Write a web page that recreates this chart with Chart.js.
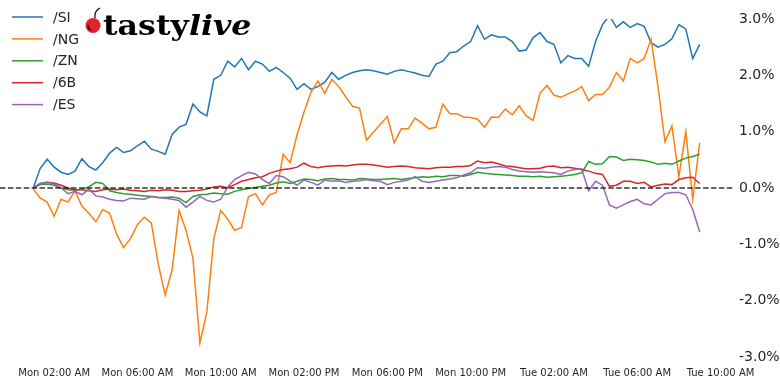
<!DOCTYPE html>
<html>
<head>
<meta charset="utf-8">
<script src="https://cdn.jsdelivr.net/npm/chart.js@4/dist/chart.umd.min.js"></script>
<style>
  html, body { margin: 0; padding: 0; background: #fff; }
  #wrap { width: 780px; height: 383px; position: relative; }
</style>
</head>
<body>
<div id="wrap"><canvas id="myChart"></canvas></div>
<script>
// time axis: hours since Mon 00:00, one reading every 20 minutes
var startHour = 1.0
var stepHours = 1 / 3
var tickHours = [2, 6, 10, 14, 18, 22, 26, 30, 34]

var seriesNames = ['/SI', '/NG', '/ZN', '/6B', '/ES']
var seriesColors = ['#1f77b4', '#ff7f0e', '#2ca02c', '#d62728', '#9467bd']

// % change from the first print
var siValues = [0.0,0.35,0.51,0.37,0.28,0.24,0.30,0.52,0.38,0.32,
  0.45,0.62,0.72,0.63,0.66,0.75,0.83,0.69,0.65,0.60,
  0.95,1.08,1.13,1.49,1.35,1.28,1.93,2.00,2.25,2.15,
  2.30,2.10,2.25,2.20,2.07,2.14,2.05,1.95,1.75,1.85,
  1.75,1.80,1.88,2.05,1.93,2.00,2.05,2.08,2.10,2.08,
  2.05,2.02,2.07,2.10,2.07,2.04,2.00,1.98,2.20,2.25,
  2.40,2.42,2.52,2.60,2.88,2.64,2.72,2.68,2.68,2.60,
  2.43,2.45,2.67,2.76,2.60,2.55,2.22,2.35,2.30,2.30,
  2.16,2.60,2.90,3.06,2.85,2.95,2.85,2.92,2.87,2.58,
  2.50,2.55,2.65,2.90,2.82,2.30,2.55]

var ngValues = [-0.02,-0.18,-0.25,-0.50,-0.20,-0.25,-0.05,-0.32,-0.45,-0.60,
  -0.38,-0.45,-0.82,-1.06,-0.90,-0.65,-0.52,-0.62,-1.35,-1.90,
  -1.45,-0.40,-0.75,-1.25,-2.75,-2.20,-0.90,-0.40,-0.55,-0.75,
  -0.70,-0.15,-0.10,-0.30,-0.12,-0.08,0.60,0.45,0.95,1.35,
  1.70,1.90,1.68,1.93,1.80,1.62,1.45,1.42,0.85,0.99,
  1.13,1.27,0.80,1.05,1.05,1.24,1.15,1.05,1.08,1.49,
  1.32,1.32,1.26,1.25,1.22,1.08,1.26,1.25,1.40,1.30,
  1.46,1.28,1.20,1.68,1.82,1.65,1.61,1.67,1.72,1.80,
  1.55,1.66,1.66,1.79,2.05,1.90,2.30,2.22,2.30,2.64,
  1.80,0.82,1.10,0.20,1.00,-0.20,0.80]

var znValues = [0.00,0.06,0.07,0.05,0.00,-0.03,-0.04,-0.02,0.02,0.10,
  0.08,-0.05,-0.08,-0.10,-0.11,-0.13,-0.14,-0.15,-0.17,-0.17,
  -0.16,-0.18,-0.26,-0.15,-0.12,-0.11,-0.09,-0.10,-0.11,-0.06,
  -0.03,-0.01,0.01,0.03,0.05,0.09,0.11,0.08,0.12,0.16,
  0.15,0.13,0.16,0.17,0.15,0.15,0.14,0.17,0.16,0.15,
  0.15,0.16,0.17,0.15,0.17,0.18,0.20,0.19,0.21,0.20,
  0.22,0.22,0.21,0.24,0.28,0.26,0.25,0.24,0.23,0.22,
  0.21,0.21,0.20,0.21,0.19,0.20,0.21,0.22,0.24,0.27,
  0.47,0.42,0.43,0.56,0.55,0.49,0.51,0.50,0.49,0.46,
  0.42,0.44,0.42,0.48,0.53,0.56,0.60]

var b6Values = [0.00,0.08,0.10,0.09,0.05,0.00,-0.03,-0.03,-0.05,-0.06,
  -0.03,-0.02,-0.03,-0.02,-0.04,-0.05,-0.06,-0.04,-0.05,-0.03,
  -0.04,-0.06,-0.06,-0.05,-0.04,-0.02,0.02,0.03,0.00,0.06,
  0.12,0.15,0.18,0.20,0.26,0.30,0.33,0.34,0.37,0.44,
  0.38,0.36,0.38,0.39,0.40,0.39,0.41,0.42,0.42,0.41,
  0.39,0.37,0.38,0.39,0.38,0.36,0.35,0.34,0.36,0.37,
  0.37,0.38,0.38,0.40,0.48,0.45,0.46,0.43,0.39,0.38,
  0.36,0.34,0.34,0.35,0.38,0.39,0.36,0.37,0.35,0.33,
  0.30,0.26,0.24,0.03,0.05,0.12,0.12,0.08,0.10,0.02,
  0.05,0.07,0.06,0.15,0.18,0.19,0.08]

var esValues = [0.00,0.08,0.10,0.07,0.00,-0.10,-0.06,-0.12,-0.02,-0.14,
  -0.16,-0.20,-0.22,-0.23,-0.18,-0.19,-0.20,-0.15,-0.17,-0.18,
  -0.20,-0.22,-0.34,-0.25,-0.15,-0.22,-0.25,-0.20,0.02,0.15,
  0.22,0.28,0.25,0.15,0.08,0.22,0.20,0.12,0.05,0.14,
  0.10,0.05,0.14,0.12,0.13,0.10,0.12,0.13,0.15,0.13,
  0.12,0.06,0.10,0.12,0.14,0.20,0.12,0.10,0.12,0.14,
  0.16,0.18,0.23,0.27,0.36,0.35,0.37,0.38,0.37,0.33,
  0.30,0.29,0.28,0.29,0.28,0.27,0.24,0.30,0.33,0.34,
  -0.05,0.12,0.05,-0.30,-0.36,-0.30,-0.24,-0.20,-0.28,-0.30,
  -0.20,-0.10,-0.08,-0.08,-0.12,-0.38,-0.78]

var allValues = [siValues, ngValues, znValues, b6Values, esValues]


function fmtHour(v) {
  var day = v < 24 ? 'Mon' : 'Tue'
  var h = v % 24
  var ampm = h < 12 ? 'AM' : 'PM'
  var h12 = h % 12 === 0 ? 12 : h % 12
  return day + ' ' + String(h12).padStart(2, '0') + ':00 ' + ampm
}

function return_data() {
  var x = { datasets: [] }
  for (var s = 0; s < seriesNames.length; s++) {
    var pts = []
    for (var i = 0; i < allValues[s].length; i++) {
      pts.push({ x: startHour + i * stepHours, y: allValues[s][i] })
    }
    x.datasets.push({
      label: seriesNames[s],
      data: pts,
      borderColor: seriesColors[s],
      backgroundColor: seriesColors[s],
      borderWidth: 1.5,
      pointRadius: 0,
      tension: 0,
      // last series on top, like the original
      order: seriesNames.length - 1 - s
    })
  }
  return x
}

// dashed line at 0%
var zeroLine = {
  id: 'zeroLine',
  afterDatasetsDraw: function(chart) {
    var ctx = chart.ctx, area = chart.chartArea
    var y = chart.scales.y.getPixelForValue(0)
    ctx.save()
    ctx.strokeStyle = 'rgba(0,0,0,0.8)'
    ctx.lineWidth = 1.5
    ctx.setLineDash([5.5, 2.4])
    ctx.beginPath()
    ctx.moveTo(area.left, y)
    ctx.lineTo(area.right, y)
    ctx.stroke()
    ctx.restore()
  }
}

// legend in the top left corner plus the logo
var decor = {
  id: 'decor',
  afterDraw: function(chart) {
    var ctx = chart.ctx
    ctx.save()
    chart.data.datasets.forEach(function(ds, i) {
      var y = 17 + i * 21.9
      ctx.strokeStyle = ds.borderColor
      ctx.lineWidth = 1.5
      ctx.beginPath()
      ctx.moveTo(12, y)
      ctx.lineTo(43, y)
      ctx.stroke()
      ctx.fillStyle = '#262626'
      ctx.font = '14px "DejaVu Sans"'
      ctx.textBaseline = 'middle'
      ctx.fillText(ds.label, 53, y + 1)
    })

    // cherry
    ctx.fillStyle = '#e3212b'
    ctx.beginPath()
    ctx.arc(93, 25.5, 7.5, 0, Math.PI * 2)
    ctx.fill()
    ctx.strokeStyle = '#111'
    ctx.lineWidth = 1.1
    ctx.beginPath()
    ctx.arc(93, 25.5, 5, Math.PI * 0.6, Math.PI * 1.05)
    ctx.stroke()
    ctx.lineWidth = 1.3
    ctx.beginPath()
    ctx.moveTo(95, 18)
    ctx.quadraticCurveTo(94, 11, 100, 8)
    ctx.stroke()

    // wordmark, stretched a little to the width of the original
    ctx.translate(103, 35)
    ctx.scale(1.13, 1)
    ctx.fillStyle = '#000'
    ctx.textBaseline = 'alphabetic'
    ctx.font = 'bold 28px "DejaVu Serif"'
    ctx.fillText('tasty', 0, 0)
    var w = ctx.measureText('tasty').width
    ctx.font = 'italic bold 28px "DejaVu Serif"'
    ctx.fillText('live', w, 0)
    ctx.restore()
  }
}


var ctx = document.getElementById('myChart').getContext('2d')

var chart = new Chart(ctx, {
  type: 'line',
  data: return_data(),
  plugins: [zeroLine, decor],
  options: {
    responsive: true,
    maintainAspectRatio: false,
    animation: false,
    layout: { padding: { top: 19, bottom: 0, left: 0, right: 0 } },
    plugins: { legend: { display: false }, tooltip: { enabled: false } },
    scales: {
      x: {
        type: 'linear',
        min: -0.6,
        max: 34.6,
        grid: { display: false, drawTicks: false },
        border: { display: false },
        afterBuildTicks: function(s) {
          s.ticks = tickHours.map(function(v) { return { value: v } })
        },
        afterFit: function(s) { s.height = 26 },
        ticks: {
          autoSkip: false,
          maxRotation: 0,
          padding: 10,
          color: '#262626',
          font: { family: 'DejaVu Sans', size: 10 },
          callback: function(v) { return fmtHour(v) }
        }
      },
      y: {
        position: 'right',
        min: -3,
        max: 3,
        grid: { display: false, drawTicks: false },
        border: { display: false },
        afterFit: function(s) { s.width = 47 },
        ticks: {
          stepSize: 1,
          padding: 6,
          color: '#262626',
          font: { family: 'DejaVu Sans', size: 14 },
          callback: function(v) { return v.toFixed(1) + '%' }
        }
      }
    }
  }
})
</script>
</body>
</html>
